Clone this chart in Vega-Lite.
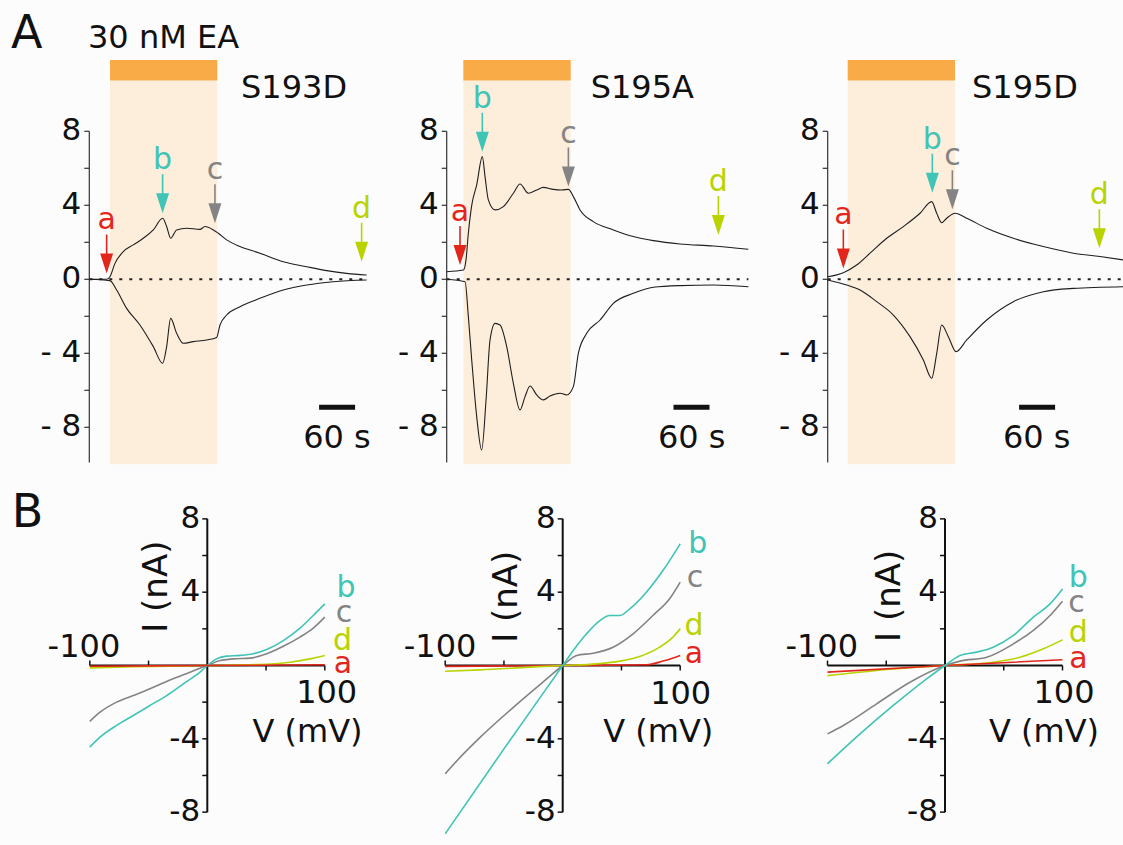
{
"$schema":"https://vega.github.io/schema/vega-lite/v6.json",
"background":"#fcfcfc",
"padding":0,
"autosize":{"type":"pad"},
"config":{"view":{"stroke":null},"concat":{"spacing":0},"text":{"font":"DejaVu Sans"}},
"datasets":{
"pan":[
{"p":"A1","t0":34.5,"t1":213.3,"tEnd":463,"b0":383,"b1":443,"z":0,"s0":-10,"s1":10.74,"s2":11.85,"a0":-9.9,"a1":8,"sb":-6.92},
{"p":"A2","t0":27.7,"t1":206.7,"tEnd":502.8,"b0":378,"b1":438,"z":0,"s0":-10,"s1":10.74,"s2":11.85,"a0":-9.9,"a1":8,"sb":-6.92},
{"p":"A3","t0":33.3,"t1":212.2,"tEnd":492.2,"b0":319,"b1":379,"z":0,"s0":-10,"s1":10.74,"s2":11.85,"a0":-9.9,"a1":8,"sb":-6.92},
{"p":"B1","z":0,"lo":-8,"hi":8,"xl":-100,"xh":100},{"p":"B2","z":0,"lo":-8,"hi":8,"xl":-100,"xh":100},{"p":"B3","z":0,"lo":-8,"hi":8,"xl":-100,"xh":100}],
"ytA":[{"v":8,"lab":"8","x0":-8.33,"x1":0},{"v":6,"lab":"","x0":-8.33,"x1":0},{"v":4,"lab":"4","x0":-8.33,"x1":0},{"v":2,"lab":"","x0":-8.33,"x1":0},{"v":0,"lab":"0","x0":-8.33,"x1":0},{"v":-2,"lab":"","x0":-8.33,"x1":0},{"v":-4,"lab":"- 4","x0":-8.33,"x1":0},{"v":-6,"lab":"","x0":-8.33,"x1":0},{"v":-8,"lab":"- 8","x0":-8.33,"x1":0}],
"ytB":[{"v":8,"lab":"8","x0":-4.26,"x1":0},{"v":6,"lab":"","x0":-4.26,"x1":0},{"v":4,"lab":"4","x0":-4.26,"x1":0},{"v":2,"lab":"","x0":-4.26,"x1":0},{"v":-2,"lab":"","x0":-4.26,"x1":0},{"v":-4,"lab":"-4","x0":-4.26,"x1":0},{"v":-6,"lab":"","x0":-4.26,"x1":0},{"v":-8,"lab":"-8","x0":-4.26,"x1":0}],
"bt":[{"V":-100,"I0":0,"I1":0.27},{"V":-50,"I0":0,"I1":0.27},{"V":50,"I0":0,"I1":-0.27},{"V":100,"I0":0,"I1":-0.27}],
"traces":[
{"p":"A1","s":"u","t":0,"v":0},{"p":"A1","s":"u","t":28.9,"v":0},{"p":"A1","s":"u","t":34.4,"v":0.14},{"p":"A1","s":"u","t":42.8,"v":0.86},{"p":"A1","s":"u","t":56.7,"v":1.5},{"p":"A1","s":"u","t":73.3,"v":1.86},{"p":"A1","s":"u","t":90,"v":2.22},{"p":"A1","s":"u","t":106.7,"v":2.67},{"p":"A1","s":"u","t":122.2,"v":3.3},{"p":"A1","s":"u","t":128.9,"v":2.85},{"p":"A1","s":"u","t":135.6,"v":2.22},{"p":"A1","s":"u","t":145.6,"v":2.67},{"p":"A1","s":"u","t":162.2,"v":2.76},{"p":"A1","s":"u","t":184.4,"v":2.7},{"p":"A1","s":"u","t":192.8,"v":2.85},{"p":"A1","s":"u","t":206.7,"v":2.67},{"p":"A1","s":"u","t":215,"v":2.49},{"p":"A1","s":"u","t":228.9,"v":2.13},{"p":"A1","s":"u","t":251.1,"v":1.77},{"p":"A1","s":"u","t":284.4,"v":1.41},{"p":"A1","s":"u","t":323.3,"v":0.95},{"p":"A1","s":"u","t":362.2,"v":0.68},{"p":"A1","s":"u","t":395.6,"v":0.47},{"p":"A1","s":"u","t":428.9,"v":0.32},{"p":"A1","s":"u","t":462.2,"v":0.23},
{"p":"A1","s":"l","t":0,"v":0},{"p":"A1","s":"l","t":34.4,"v":-0.07},{"p":"A1","s":"l","t":45.6,"v":-0.58},{"p":"A1","s":"l","t":62.2,"v":-1.57},{"p":"A1","s":"l","t":84.4,"v":-2.47},{"p":"A1","s":"l","t":106.7,"v":-3.64},{"p":"A1","s":"l","t":122.2,"v":-4.54},{"p":"A1","s":"l","t":128.9,"v":-3.64},{"p":"A1","s":"l","t":135.6,"v":-2.11},{"p":"A1","s":"l","t":145.6,"v":-2.92},{"p":"A1","s":"l","t":156.7,"v":-3.46},{"p":"A1","s":"l","t":173.3,"v":-3.37},{"p":"A1","s":"l","t":195.6,"v":-3.28},{"p":"A1","s":"l","t":212.2,"v":-3.14},{"p":"A1","s":"l","t":217.8,"v":-2.47},{"p":"A1","s":"l","t":228.9,"v":-1.93},{"p":"A1","s":"l","t":251.1,"v":-1.48},{"p":"A1","s":"l","t":284.4,"v":-1.03},{"p":"A1","s":"l","t":323.3,"v":-0.58},{"p":"A1","s":"l","t":362.2,"v":-0.31},{"p":"A1","s":"l","t":406.7,"v":-0.13},{"p":"A1","s":"l","t":462.2,"v":-0.04},
{"p":"A2","s":"u","t":0,"v":0.41},{"p":"A2","s":"u","t":27.8,"v":0.5},{"p":"A2","s":"u","t":32.2,"v":1.05},{"p":"A2","s":"u","t":36.1,"v":2.5},{"p":"A2","s":"u","t":41.7,"v":4.0},{"p":"A2","s":"u","t":50,"v":5.1},{"p":"A2","s":"u","t":59.4,"v":6.63},{"p":"A2","s":"u","t":63.9,"v":5.55},{"p":"A2","s":"u","t":69.4,"v":4.29},{"p":"A2","s":"u","t":80.6,"v":3.75},{"p":"A2","s":"u","t":94.4,"v":3.93},{"p":"A2","s":"u","t":111.1,"v":4.65},{"p":"A2","s":"u","t":122.2,"v":5.15},{"p":"A2","s":"u","t":136.1,"v":4.65},{"p":"A2","s":"u","t":150,"v":4.83},{"p":"A2","s":"u","t":161.1,"v":4.97},{"p":"A2","s":"u","t":177.8,"v":4.86},{"p":"A2","s":"u","t":191.7,"v":4.83},{"p":"A2","s":"u","t":202.8,"v":4.86},{"p":"A2","s":"u","t":211.1,"v":4.47},{"p":"A2","s":"u","t":222.2,"v":3.75},{"p":"A2","s":"u","t":244.4,"v":3.12},{"p":"A2","s":"u","t":277.8,"v":2.67},{"p":"A2","s":"u","t":311.1,"v":2.31},{"p":"A2","s":"u","t":344.4,"v":2.09},{"p":"A2","s":"u","t":388.9,"v":1.91},{"p":"A2","s":"u","t":444.4,"v":1.8},{"p":"A2","s":"u","t":502.8,"v":1.62},
{"p":"A2","s":"l","t":0,"v":0},{"p":"A2","s":"l","t":30.6,"v":-0.13},{"p":"A2","s":"l","t":36.1,"v":-2.02},{"p":"A2","s":"l","t":41.7,"v":-4.36},{"p":"A2","s":"l","t":50,"v":-7.42},{"p":"A2","s":"l","t":58.3,"v":-9.23},{"p":"A2","s":"l","t":65.6,"v":-6.52},{"p":"A2","s":"l","t":72.2,"v":-3.28},{"p":"A2","s":"l","t":80.6,"v":-2.38},{"p":"A2","s":"l","t":88.9,"v":-2.47},{"p":"A2","s":"l","t":100,"v":-3.64},{"p":"A2","s":"l","t":111.1,"v":-5.62},{"p":"A2","s":"l","t":122.2,"v":-7.06},{"p":"A2","s":"l","t":130.6,"v":-6.34},{"p":"A2","s":"l","t":138.9,"v":-5.77},{"p":"A2","s":"l","t":150,"v":-6.25},{"p":"A2","s":"l","t":161.1,"v":-6.52},{"p":"A2","s":"l","t":172.2,"v":-6.31},{"p":"A2","s":"l","t":188.9,"v":-6.16},{"p":"A2","s":"l","t":200,"v":-6.25},{"p":"A2","s":"l","t":211.1,"v":-5.8},{"p":"A2","s":"l","t":219.4,"v":-4.0},{"p":"A2","s":"l","t":233.3,"v":-2.92},{"p":"A2","s":"l","t":255.6,"v":-2.2},{"p":"A2","s":"l","t":277.8,"v":-1.3},{"p":"A2","s":"l","t":311.1,"v":-0.76},{"p":"A2","s":"l","t":344.4,"v":-0.43},{"p":"A2","s":"l","t":388.9,"v":-0.34},{"p":"A2","s":"l","t":444.4,"v":-0.31},{"p":"A2","s":"l","t":502.8,"v":-0.4},
{"p":"A3","s":"u","t":0,"v":0.14},{"p":"A3","s":"u","t":26.1,"v":0.36},{"p":"A3","s":"u","t":48.3,"v":0.77},{"p":"A3","s":"u","t":70.6,"v":1.41},{"p":"A3","s":"u","t":98.3,"v":2.22},{"p":"A3","s":"u","t":126.1,"v":2.85},{"p":"A3","s":"u","t":153.9,"v":3.57},{"p":"A3","s":"u","t":173.3,"v":4.2},{"p":"A3","s":"u","t":181.7,"v":3.57},{"p":"A3","s":"u","t":190,"v":3.06},{"p":"A3","s":"u","t":198.3,"v":3.3},{"p":"A3","s":"u","t":212.2,"v":3.57},{"p":"A3","s":"u","t":231.7,"v":3.3},{"p":"A3","s":"u","t":265,"v":2.76},{"p":"A3","s":"u","t":309.4,"v":2.22},{"p":"A3","s":"u","t":359.4,"v":1.77},{"p":"A3","s":"u","t":409.4,"v":1.41},{"p":"A3","s":"u","t":453.9,"v":1.23},{"p":"A3","s":"u","t":492.2,"v":1.05},
{"p":"A3","s":"l","t":0,"v":-0.04},{"p":"A3","s":"l","t":31.7,"v":-0.31},{"p":"A3","s":"l","t":53.9,"v":-0.58},{"p":"A3","s":"l","t":81.7,"v":-1.21},{"p":"A3","s":"l","t":109.4,"v":-1.93},{"p":"A3","s":"l","t":137.2,"v":-3.1},{"p":"A3","s":"l","t":159.4,"v":-4.36},{"p":"A3","s":"l","t":173.3,"v":-5.35},{"p":"A3","s":"l","t":181.7,"v":-4.0},{"p":"A3","s":"l","t":190,"v":-2.47},{"p":"A3","s":"l","t":201.1,"v":-3.1},{"p":"A3","s":"l","t":213.9,"v":-3.91},{"p":"A3","s":"l","t":231.7,"v":-3.28},{"p":"A3","s":"l","t":265,"v":-2.2},{"p":"A3","s":"l","t":309.4,"v":-1.21},{"p":"A3","s":"l","t":359.4,"v":-0.67},{"p":"A3","s":"l","t":409.4,"v":-0.49},{"p":"A3","s":"l","t":492.2,"v":-0.4}],
"arr":[
{"p":"A1","c":"a","t":28.9,"v":0.32},{"p":"A1","c":"b","t":122.2,"v":3.57},{"p":"A1","c":"c","t":209.4,"v":3.03},{"p":"A1","c":"d","t":453.9,"v":0.95},
{"p":"A2","c":"a","t":22.2,"v":0.77},{"p":"A2","c":"b","t":59.4,"v":6.9},{"p":"A2","c":"c","t":202.8,"v":5.01},{"p":"A2","c":"d","t":452.8,"v":2.4},
{"p":"A3","c":"a","t":26.1,"v":0.59},{"p":"A3","c":"b","t":174.4,"v":4.68},{"p":"A3","c":"c","t":207.8,"v":3.78},{"p":"A3","c":"d","t":452.8,"v":1.68}],
"txt":[
{"p":"A1","k":"m","txt":"S193D","x":341.2,"y":9.78},{"p":"A1","k":"m","txt":"60 s","x":412.8,"y":-9.14},{"p":"A1","k":"m","txt":"30 nM EA","x":123.7,"y":12.49},{"p":"A1","k":"L","txt":"A","x":-104.3,"y":12.49},
{"p":"A2","k":"m","txt":"S195A","x":326,"y":9.78},{"p":"A2","k":"m","txt":"60 s","x":408.3,"y":-9.14},
{"p":"A3","k":"m","txt":"S195D","x":328.8,"y":9.78},{"p":"A3","k":"m","txt":"60 s","x":348.3,"y":-9.14},
{"p":"B1","k":"m","txt":"-100","x":-105,"y":0.48},{"p":"B1","k":"m","txt":"100","x":101.6,"y":-2.06},{"p":"B1","k":"m","txt":"V (mV)","x":85.3,"y":-4.16},{"p":"B1","k":"r","txt":"I (nA)","x":-42.4,"y":4.3},{"p":"B1","k":"L","txt":"B","x":-153,"y":7.57},
{"p":"B2","k":"m","txt":"-100","x":-104.4,"y":0.48},{"p":"B2","k":"m","txt":"100","x":100.4,"y":-2.1},{"p":"B2","k":"m","txt":"V (mV)","x":81.3,"y":-4.16},{"p":"B2","k":"r","txt":"I (nA)","x":-47,"y":3.75},
{"p":"B3","k":"m","txt":"-100","x":-104.9,"y":0.48},{"p":"B3","k":"m","txt":"100","x":101.3,"y":-2.06},{"p":"B3","k":"m","txt":"V (mV)","x":84.3,"y":-4.16},{"p":"B3","k":"r","txt":"I (nA)","x":-46.8,"y":3.8}],
"lbl":[
{"p":"B1","c":"b","V":118,"I":3.75},{"p":"B1","c":"c","V":116.3,"I":2.37},{"p":"B1","c":"d","V":115,"I":0.85},{"p":"B1","c":"a","V":115.5,"I":-0.41},
{"p":"B2","c":"b","V":115,"I":6.12},{"p":"B2","c":"c","V":112.6,"I":4.3},{"p":"B2","c":"d","V":111.7,"I":1.66},{"p":"B2","c":"a","V":111.7,"I":0.12},
{"p":"B3","c":"b","V":113.5,"I":4.3},{"p":"B3","c":"c","V":112,"I":2.93},{"p":"B3","c":"d","V":113.5,"I":1.3},{"p":"B3","c":"a","V":113.5,"I":-0.15}],
"iv":[
{"p":"B1","c":"d","V":-100,"I":-0.13},{"p":"B1","c":"d","V":-63,"I":-0.07},{"p":"B1","c":"d","V":0,"I":0},{"p":"B1","c":"d","V":50.5,"I":0.07},{"p":"B1","c":"d","V":70.4,"I":0.18},{"p":"B1","c":"d","V":87.4,"I":0.36},{"p":"B1","c":"d","V":100,"I":0.55},
{"p":"B1","c":"c","V":-100,"I":-3.05},{"p":"B1","c":"c","V":-91.3,"I":-2.55},{"p":"B1","c":"c","V":-77.2,"I":-2.0},{"p":"B1","c":"c","V":-63,"I":-1.64},{"p":"B1","c":"c","V":-48.8,"I":-1.27},{"p":"B1","c":"c","V":-34.6,"I":-0.87},{"p":"B1","c":"c","V":-20.4,"I":-0.51},{"p":"B1","c":"c","V":-6.2,"I":-0.15},{"p":"B1","c":"c","V":0,"I":0},{"p":"B1","c":"c","V":10.8,"I":0.27},{"p":"B1","c":"c","V":22.1,"I":0.36},{"p":"B1","c":"c","V":36.3,"I":0.4},{"p":"B1","c":"c","V":50.5,"I":0.64},{"p":"B1","c":"c","V":64.7,"I":1.05},{"p":"B1","c":"c","V":78.9,"I":1.55},{"p":"B1","c":"c","V":90.2,"I":2.04},{"p":"B1","c":"c","V":100,"I":2.64},
{"p":"B1","c":"b","V":-100,"I":-4.45},{"p":"B1","c":"b","V":-91.3,"I":-3.91},{"p":"B1","c":"b","V":-77.2,"I":-3.27},{"p":"B1","c":"b","V":-63,"I":-2.73},{"p":"B1","c":"b","V":-48.8,"I":-2.18},{"p":"B1","c":"b","V":-34.6,"I":-1.64},{"p":"B1","c":"b","V":-20.4,"I":-1.0},{"p":"B1","c":"b","V":-6.2,"I":-0.36},{"p":"B1","c":"b","V":0,"I":0},{"p":"B1","c":"b","V":7.9,"I":0.36},{"p":"B1","c":"b","V":16.5,"I":0.51},{"p":"B1","c":"b","V":27.8,"I":0.55},{"p":"B1","c":"b","V":39.1,"I":0.64},{"p":"B1","c":"b","V":50.5,"I":0.87},{"p":"B1","c":"b","V":64.7,"I":1.36},{"p":"B1","c":"b","V":78.9,"I":2.04},{"p":"B1","c":"b","V":90.2,"I":2.73},{"p":"B1","c":"b","V":100,"I":3.36},
{"p":"B1","c":"a","V":-100,"I":-0.04},{"p":"B1","c":"a","V":0,"I":0},{"p":"B1","c":"a","V":100,"I":0.04},
{"p":"B2","c":"a","V":-100,"I":-0.05},{"p":"B2","c":"a","V":0,"I":0},{"p":"B2","c":"a","V":71.2,"I":0.04},{"p":"B2","c":"a","V":85.3,"I":0.24},{"p":"B2","c":"a","V":100,"I":0.55},
{"p":"B2","c":"d","V":-100,"I":-0.31},{"p":"B2","c":"d","V":-70.1,"I":-0.24},{"p":"B2","c":"d","V":-27.7,"I":-0.09},{"p":"B2","c":"d","V":0,"I":0},{"p":"B2","c":"d","V":28.8,"I":0.09},{"p":"B2","c":"d","V":48.6,"I":0.24},{"p":"B2","c":"d","V":65.5,"I":0.49},{"p":"B2","c":"d","V":82.5,"I":1.0},{"p":"B2","c":"d","V":93.8,"I":1.55},{"p":"B2","c":"d","V":100,"I":2.0},
{"p":"B2","c":"c","V":-100,"I":-5.91},{"p":"B2","c":"c","V":-89.8,"I":-5.18},{"p":"B2","c":"c","V":-70.1,"I":-3.91},{"p":"B2","c":"c","V":-41.8,"I":-2.27},{"p":"B2","c":"c","V":-13.6,"I":-0.73},{"p":"B2","c":"c","V":0,"I":0},{"p":"B2","c":"c","V":11.9,"I":0.55},{"p":"B2","c":"c","V":26,"I":0.67},{"p":"B2","c":"c","V":42.9,"I":1.0},{"p":"B2","c":"c","V":59.9,"I":1.73},{"p":"B2","c":"c","V":76.8,"I":2.73},{"p":"B2","c":"c","V":91,"I":3.64},{"p":"B2","c":"c","V":100,"I":4.55},
{"p":"B2","c":"b","V":-100,"I":-9.18},{"p":"B2","c":"b","V":-50,"I":-4.55},{"p":"B2","c":"b","V":0,"I":0},{"p":"B2","c":"b","V":9,"I":0.82},{"p":"B2","c":"b","V":20.3,"I":1.73},{"p":"B2","c":"b","V":31.6,"I":2.45},{"p":"B2","c":"b","V":40.1,"I":2.73},{"p":"B2","c":"b","V":48.6,"I":2.73},{"p":"B2","c":"b","V":57.1,"I":3.09},{"p":"B2","c":"b","V":71.2,"I":4.0},{"p":"B2","c":"b","V":85.3,"I":5.18},{"p":"B2","c":"b","V":100,"I":6.64},
{"p":"B3","c":"d","V":-100,"I":-0.55},{"p":"B3","c":"d","V":-58.2,"I":-0.27},{"p":"B3","c":"d","V":0,"I":0},{"p":"B3","c":"d","V":41.1,"I":0.18},{"p":"B3","c":"d","V":63.8,"I":0.45},{"p":"B3","c":"d","V":83.7,"I":0.91},{"p":"B3","c":"d","V":100,"I":1.4},
{"p":"B3","c":"a","V":-100,"I":-0.36},{"p":"B3","c":"a","V":0,"I":0},{"p":"B3","c":"a","V":100,"I":0.31},
{"p":"B3","c":"c","V":-100,"I":-3.73},{"p":"B3","c":"c","V":-86.5,"I":-3.27},{"p":"B3","c":"c","V":-58.2,"I":-2.09},{"p":"B3","c":"c","V":-29.8,"I":-0.91},{"p":"B3","c":"c","V":0,"I":0},{"p":"B3","c":"c","V":12.8,"I":0.24},{"p":"B3","c":"c","V":35.5,"I":0.45},{"p":"B3","c":"c","V":58.2,"I":1.18},{"p":"B3","c":"c","V":75.2,"I":1.91},{"p":"B3","c":"c","V":89.4,"I":2.73},{"p":"B3","c":"c","V":100,"I":3.51},
{"p":"B3","c":"b","V":-100,"I":-5.36},{"p":"B3","c":"b","V":-72.3,"I":-3.73},{"p":"B3","c":"b","V":-44,"I":-2.18},{"p":"B3","c":"b","V":-15.6,"I":-0.73},{"p":"B3","c":"b","V":0,"I":0},{"p":"B3","c":"b","V":12.8,"I":0.55},{"p":"B3","c":"b","V":27,"I":0.73},{"p":"B3","c":"b","V":41.1,"I":1.0},{"p":"B3","c":"b","V":58.2,"I":1.64},{"p":"B3","c":"b","V":75.2,"I":2.64},{"p":"B3","c":"b","V":89.4,"I":3.36},{"p":"B3","c":"b","V":100,"I":4.18}]
},
"columns":3,
"bounds":"flush",
"spacing":0,
"concat":[
{"width":380,"height":470,"layer":[
{"data":{"name":"pan"},"transform":[{"filter":"datum.p==='A1'"}],"mark":{"type":"rect","color":"#fdeedc"},"encoding":{"x":{"field":"t0","type":"quantitative","scale":{"domain":[-148.83,484.5],"nice":false,"zero":false},"axis":null},"x2":{"field":"t1"},"y":{"field":"s0","type":"quantitative","scale":{"domain":[-10.308,15.097],"nice":false,"zero":false},"axis":null},"y2":{"field":"s1"}}},
{"data":{"name":"pan"},"transform":[{"filter":"datum.p==='A1'"}],"mark":{"type":"rect","color":"#f8ab47"},"encoding":{"x":{"field":"t0","type":"quantitative","axis":null},"x2":{"field":"t1"},"y":{"field":"s1","type":"quantitative","axis":null},"y2":{"field":"s2"}}},
{"data":{"name":"pan"},"transform":[{"filter":"datum.p==='A1'"}],"mark":{"type":"rule","color":"#222","strokeWidth":2,"strokeDash":[3,7]},"encoding":{"x":{"field":"z","type":"quantitative","axis":null},"x2":{"field":"tEnd"},"y":{"field":"z","type":"quantitative","axis":null}}},
{"data":{"name":"pan"},"transform":[{"filter":"datum.p==='A1'"}],"mark":{"type":"rule","color":"#333","strokeWidth":1.2},"encoding":{"x":{"field":"z","type":"quantitative","axis":null},"y":{"field":"a0","type":"quantitative","axis":null},"y2":{"field":"a1"}}},
{"data":{"name":"ytA"},"mark":{"type":"rule","color":"#333","strokeWidth":1.2},"encoding":{"x":{"field":"x0","type":"quantitative","axis":null},"x2":{"field":"x1"},"y":{"field":"v","type":"quantitative","axis":null}}},
{"data":{"name":"ytA"},"mark":{"type":"text","fontSize":31,"align":"right","baseline":"middle","dx":-3,"color":"#111"},"encoding":{"x":{"field":"x0","type":"quantitative","axis":null},"y":{"field":"v","type":"quantitative","axis":null},"text":{"field":"lab","type":"nominal"}}},
{"data":{"name":"traces"},"transform":[{"filter":"datum.p==='A1'"}],"mark":{"type":"line","color":"#1e1e1e","strokeWidth":1.1,"interpolate":"monotone"},"encoding":{"x":{"field":"t","type":"quantitative","axis":null},"y":{"field":"v","type":"quantitative","axis":null},"detail":{"field":"s","type":"nominal"}}},
{"data":{"name":"arr"},"transform":[{"filter":"datum.p==='A1'"}],"mark":{"type":"point","filled":true,"opacity":1,"size":400,"shape":"M-0.08,-3.9L0.08,-3.9L0.08,-2L0.65,-2L0,0L-0.65,-2L-0.08,-2Z"},"encoding":{"x":{"field":"t","type":"quantitative","axis":null},"y":{"field":"v","type":"quantitative","axis":null},"color":{"field":"c","type":"nominal","scale":{"domain":["a","b","c","d"],"range":["#e2261c","#3fc4b5","#848484","#b9d300"]},"legend":null}}},
{"data":{"name":"arr"},"transform":[{"filter":"datum.p==='A1'"}],"mark":{"type":"text","fontSize":30,"dy":-44,"align":"center","baseline":"alphabetic"},"encoding":{"x":{"field":"t","type":"quantitative","axis":null},"y":{"field":"v","type":"quantitative","axis":null},"text":{"field":"c","type":"nominal"},"color":{"field":"c","type":"nominal","legend":null}}},
{"data":{"name":"pan"},"transform":[{"filter":"datum.p==='A1'"}],"mark":{"type":"rule","color":"#111","strokeWidth":5},"encoding":{"x":{"field":"b0","type":"quantitative","axis":null},"x2":{"field":"b1"},"y":{"field":"sb","type":"quantitative","axis":null}}},
{"data":{"name":"txt"},"transform":[{"filter":"datum.p==='A1' && datum.k==='m'"}],"mark":{"type":"text","fontSize":32,"align":"center","baseline":"alphabetic","color":"#111"},"encoding":{"x":{"field":"x","type":"quantitative","axis":null},"y":{"field":"y","type":"quantitative","axis":null},"text":{"field":"txt","type":"nominal"}}},
{"data":{"name":"txt"},"transform":[{"filter":"datum.p==='A1' && datum.k==='L'"}],"mark":{"type":"text","fontSize":46,"align":"center","baseline":"alphabetic","color":"#111"},"encoding":{"x":{"field":"x","type":"quantitative","axis":null},"y":{"field":"y","type":"quantitative","axis":null},"text":{"field":"txt","type":"nominal"}}}
]},
{"width":380,"height":470,"layer":[
{"data":{"name":"pan"},"transform":[{"filter":"datum.p==='A2'"}],"mark":{"type":"rect","color":"#fdeedc"},"encoding":{"x":{"field":"t0","type":"quantitative","scale":{"domain":[-111.17,522.17],"nice":false,"zero":false},"axis":null},"x2":{"field":"t1"},"y":{"field":"s0","type":"quantitative","scale":{"domain":[-10.308,15.097],"nice":false,"zero":false},"axis":null},"y2":{"field":"s1"}}},
{"data":{"name":"pan"},"transform":[{"filter":"datum.p==='A2'"}],"mark":{"type":"rect","color":"#f8ab47"},"encoding":{"x":{"field":"t0","type":"quantitative","axis":null},"x2":{"field":"t1"},"y":{"field":"s1","type":"quantitative","axis":null},"y2":{"field":"s2"}}},
{"data":{"name":"pan"},"transform":[{"filter":"datum.p==='A2'"}],"mark":{"type":"rule","color":"#222","strokeWidth":2,"strokeDash":[3,7]},"encoding":{"x":{"field":"z","type":"quantitative","axis":null},"x2":{"field":"tEnd"},"y":{"field":"z","type":"quantitative","axis":null}}},
{"data":{"name":"pan"},"transform":[{"filter":"datum.p==='A2'"}],"mark":{"type":"rule","color":"#333","strokeWidth":1.2},"encoding":{"x":{"field":"z","type":"quantitative","axis":null},"y":{"field":"a0","type":"quantitative","axis":null},"y2":{"field":"a1"}}},
{"data":{"name":"ytA"},"mark":{"type":"rule","color":"#333","strokeWidth":1.2},"encoding":{"x":{"field":"x0","type":"quantitative","axis":null},"x2":{"field":"x1"},"y":{"field":"v","type":"quantitative","axis":null}}},
{"data":{"name":"ytA"},"mark":{"type":"text","fontSize":31,"align":"right","baseline":"middle","dx":-3,"color":"#111"},"encoding":{"x":{"field":"x0","type":"quantitative","axis":null},"y":{"field":"v","type":"quantitative","axis":null},"text":{"field":"lab","type":"nominal"}}},
{"data":{"name":"traces"},"transform":[{"filter":"datum.p==='A2'"}],"mark":{"type":"line","color":"#1e1e1e","strokeWidth":1.1,"interpolate":"monotone"},"encoding":{"x":{"field":"t","type":"quantitative","axis":null},"y":{"field":"v","type":"quantitative","axis":null},"detail":{"field":"s","type":"nominal"}}},
{"data":{"name":"arr"},"transform":[{"filter":"datum.p==='A2'"}],"mark":{"type":"point","filled":true,"opacity":1,"size":400,"shape":"M-0.08,-3.9L0.08,-3.9L0.08,-2L0.65,-2L0,0L-0.65,-2L-0.08,-2Z"},"encoding":{"x":{"field":"t","type":"quantitative","axis":null},"y":{"field":"v","type":"quantitative","axis":null},"color":{"field":"c","type":"nominal","scale":{"domain":["a","b","c","d"],"range":["#e2261c","#3fc4b5","#848484","#b9d300"]},"legend":null}}},
{"data":{"name":"arr"},"transform":[{"filter":"datum.p==='A2'"}],"mark":{"type":"text","fontSize":30,"dy":-44,"align":"center","baseline":"alphabetic"},"encoding":{"x":{"field":"t","type":"quantitative","axis":null},"y":{"field":"v","type":"quantitative","axis":null},"text":{"field":"c","type":"nominal"},"color":{"field":"c","type":"nominal","legend":null}}},
{"data":{"name":"pan"},"transform":[{"filter":"datum.p==='A2'"}],"mark":{"type":"rule","color":"#111","strokeWidth":5},"encoding":{"x":{"field":"b0","type":"quantitative","axis":null},"x2":{"field":"b1"},"y":{"field":"sb","type":"quantitative","axis":null}}},
{"data":{"name":"txt"},"transform":[{"filter":"datum.p==='A2' && datum.k==='m'"}],"mark":{"type":"text","fontSize":32,"align":"center","baseline":"alphabetic","color":"#111"},"encoding":{"x":{"field":"x","type":"quantitative","axis":null},"y":{"field":"y","type":"quantitative","axis":null},"text":{"field":"txt","type":"nominal"}}}
]},
{"width":363,"height":470,"layer":[
{"data":{"name":"pan"},"transform":[{"filter":"datum.p==='A3'"}],"mark":{"type":"rect","color":"#fdeedc"},"encoding":{"x":{"field":"t0","type":"quantitative","scale":{"domain":[-112.83,492.17],"nice":false,"zero":false},"axis":null},"x2":{"field":"t1"},"y":{"field":"s0","type":"quantitative","scale":{"domain":[-10.308,15.097],"nice":false,"zero":false},"axis":null},"y2":{"field":"s1"}}},
{"data":{"name":"pan"},"transform":[{"filter":"datum.p==='A3'"}],"mark":{"type":"rect","color":"#f8ab47"},"encoding":{"x":{"field":"t0","type":"quantitative","axis":null},"x2":{"field":"t1"},"y":{"field":"s1","type":"quantitative","axis":null},"y2":{"field":"s2"}}},
{"data":{"name":"pan"},"transform":[{"filter":"datum.p==='A3'"}],"mark":{"type":"rule","color":"#222","strokeWidth":2,"strokeDash":[3,7]},"encoding":{"x":{"field":"z","type":"quantitative","axis":null},"x2":{"field":"tEnd"},"y":{"field":"z","type":"quantitative","axis":null}}},
{"data":{"name":"pan"},"transform":[{"filter":"datum.p==='A3'"}],"mark":{"type":"rule","color":"#333","strokeWidth":1.2},"encoding":{"x":{"field":"z","type":"quantitative","axis":null},"y":{"field":"a0","type":"quantitative","axis":null},"y2":{"field":"a1"}}},
{"data":{"name":"ytA"},"mark":{"type":"rule","color":"#333","strokeWidth":1.2},"encoding":{"x":{"field":"x0","type":"quantitative","axis":null},"x2":{"field":"x1"},"y":{"field":"v","type":"quantitative","axis":null}}},
{"data":{"name":"ytA"},"mark":{"type":"text","fontSize":31,"align":"right","baseline":"middle","dx":-3,"color":"#111"},"encoding":{"x":{"field":"x0","type":"quantitative","axis":null},"y":{"field":"v","type":"quantitative","axis":null},"text":{"field":"lab","type":"nominal"}}},
{"data":{"name":"traces"},"transform":[{"filter":"datum.p==='A3'"}],"mark":{"type":"line","color":"#1e1e1e","strokeWidth":1.1,"interpolate":"monotone"},"encoding":{"x":{"field":"t","type":"quantitative","axis":null},"y":{"field":"v","type":"quantitative","axis":null},"detail":{"field":"s","type":"nominal"}}},
{"data":{"name":"arr"},"transform":[{"filter":"datum.p==='A3'"}],"mark":{"type":"point","filled":true,"opacity":1,"size":400,"shape":"M-0.08,-3.9L0.08,-3.9L0.08,-2L0.65,-2L0,0L-0.65,-2L-0.08,-2Z"},"encoding":{"x":{"field":"t","type":"quantitative","axis":null},"y":{"field":"v","type":"quantitative","axis":null},"color":{"field":"c","type":"nominal","scale":{"domain":["a","b","c","d"],"range":["#e2261c","#3fc4b5","#848484","#b9d300"]},"legend":null}}},
{"data":{"name":"arr"},"transform":[{"filter":"datum.p==='A3'"}],"mark":{"type":"text","fontSize":30,"dy":-44,"align":"center","baseline":"alphabetic"},"encoding":{"x":{"field":"t","type":"quantitative","axis":null},"y":{"field":"v","type":"quantitative","axis":null},"text":{"field":"c","type":"nominal"},"color":{"field":"c","type":"nominal","legend":null}}},
{"data":{"name":"pan"},"transform":[{"filter":"datum.p==='A3'"}],"mark":{"type":"rule","color":"#111","strokeWidth":5},"encoding":{"x":{"field":"b0","type":"quantitative","axis":null},"x2":{"field":"b1"},"y":{"field":"sb","type":"quantitative","axis":null}}},
{"data":{"name":"txt"},"transform":[{"filter":"datum.p==='A3' && datum.k==='m'"}],"mark":{"type":"text","fontSize":32,"align":"center","baseline":"alphabetic","color":"#111"},"encoding":{"x":{"field":"x","type":"quantitative","axis":null},"y":{"field":"y","type":"quantitative","axis":null},"text":{"field":"txt","type":"nominal"}}}
]},
{"width":380,"height":375,"layer":[
{"data":{"name":"pan"},"transform":[{"filter":"datum.p==='B1'"}],"mark":{"type":"rule","color":"#111","strokeWidth":2},"encoding":{"x":{"field":"z","type":"quantitative","scale":{"domain":[-176.43,146.98],"nice":false,"zero":false},"axis":null},"y":{"field":"lo","type":"quantitative","scale":{"domain":[-9.793,10.666],"nice":false,"zero":false},"axis":null},"y2":{"field":"hi"}}},
{"data":{"name":"pan"},"transform":[{"filter":"datum.p==='B1'"}],"mark":{"type":"rule","color":"#111","strokeWidth":2},"encoding":{"x":{"field":"xl","type":"quantitative","axis":null},"x2":{"field":"xh"},"y":{"field":"z","type":"quantitative","axis":null}}},
{"data":{"name":"ytB"},"mark":{"type":"rule","color":"#111","strokeWidth":1.5},"encoding":{"x":{"field":"x0","type":"quantitative","axis":null},"x2":{"field":"x1"},"y":{"field":"v","type":"quantitative","axis":null}}},
{"data":{"name":"ytB"},"mark":{"type":"text","fontSize":31,"align":"right","baseline":"middle","dx":-2,"color":"#111"},"encoding":{"x":{"field":"x0","type":"quantitative","axis":null},"y":{"field":"v","type":"quantitative","axis":null},"text":{"field":"lab","type":"nominal"}}},
{"data":{"name":"bt"},"mark":{"type":"rule","color":"#111","strokeWidth":1.5},"encoding":{"x":{"field":"V","type":"quantitative","axis":null},"y":{"field":"I0","type":"quantitative","axis":null},"y2":{"field":"I1"}}},
{"data":{"name":"iv"},"transform":[{"filter":"datum.p==='B1'"}],"mark":{"type":"line","strokeWidth":1.6,"interpolate":"monotone"},"encoding":{"x":{"field":"V","type":"quantitative","axis":null},"y":{"field":"I","type":"quantitative","axis":null},"color":{"field":"c","type":"nominal","scale":{"domain":["a","b","c","d"],"range":["#e2261c","#3fc4b5","#848484","#b9d300"]},"legend":null}}},
{"data":{"name":"lbl"},"transform":[{"filter":"datum.p==='B1'"}],"mark":{"type":"text","fontSize":30,"align":"center","baseline":"alphabetic"},"encoding":{"x":{"field":"V","type":"quantitative","axis":null},"y":{"field":"I","type":"quantitative","axis":null},"text":{"field":"c","type":"nominal"},"color":{"field":"c","type":"nominal","legend":null}}},
{"data":{"name":"txt"},"transform":[{"filter":"datum.p==='B1' && datum.k==='m'"}],"mark":{"type":"text","fontSize":32,"align":"center","baseline":"alphabetic","color":"#111"},"encoding":{"x":{"field":"x","type":"quantitative","axis":null},"y":{"field":"y","type":"quantitative","axis":null},"text":{"field":"txt","type":"nominal"}}},
{"data":{"name":"txt"},"transform":[{"filter":"datum.p==='B1' && datum.k==='r'"}],"mark":{"type":"text","fontSize":34,"angle":270,"align":"center","baseline":"middle","color":"#111"},"encoding":{"x":{"field":"x","type":"quantitative","axis":null},"y":{"field":"y","type":"quantitative","axis":null},"text":{"field":"txt","type":"nominal"}}},
{"data":{"name":"txt"},"transform":[{"filter":"datum.p==='B1' && datum.k==='L'"}],"mark":{"type":"text","fontSize":46,"align":"center","baseline":"alphabetic","color":"#111"},"encoding":{"x":{"field":"x","type":"quantitative","axis":null},"y":{"field":"y","type":"quantitative","axis":null},"text":{"field":"txt","type":"nominal"}}}
]},
{"width":380,"height":375,"layer":[
{"data":{"name":"pan"},"transform":[{"filter":"datum.p==='B2'"}],"mark":{"type":"rule","color":"#111","strokeWidth":2},"encoding":{"x":{"field":"z","type":"quantitative","scale":{"domain":[-155.49,167.91],"nice":false,"zero":false},"axis":null},"y":{"field":"lo","type":"quantitative","scale":{"domain":[-9.793,10.666],"nice":false,"zero":false},"axis":null},"y2":{"field":"hi"}}},
{"data":{"name":"pan"},"transform":[{"filter":"datum.p==='B2'"}],"mark":{"type":"rule","color":"#111","strokeWidth":2},"encoding":{"x":{"field":"xl","type":"quantitative","axis":null},"x2":{"field":"xh"},"y":{"field":"z","type":"quantitative","axis":null}}},
{"data":{"name":"ytB"},"mark":{"type":"rule","color":"#111","strokeWidth":1.5},"encoding":{"x":{"field":"x0","type":"quantitative","axis":null},"x2":{"field":"x1"},"y":{"field":"v","type":"quantitative","axis":null}}},
{"data":{"name":"ytB"},"mark":{"type":"text","fontSize":31,"align":"right","baseline":"middle","dx":-2,"color":"#111"},"encoding":{"x":{"field":"x0","type":"quantitative","axis":null},"y":{"field":"v","type":"quantitative","axis":null},"text":{"field":"lab","type":"nominal"}}},
{"data":{"name":"bt"},"mark":{"type":"rule","color":"#111","strokeWidth":1.5},"encoding":{"x":{"field":"V","type":"quantitative","axis":null},"y":{"field":"I0","type":"quantitative","axis":null},"y2":{"field":"I1"}}},
{"data":{"name":"iv"},"transform":[{"filter":"datum.p==='B2'"}],"mark":{"type":"line","strokeWidth":1.6,"interpolate":"monotone"},"encoding":{"x":{"field":"V","type":"quantitative","axis":null},"y":{"field":"I","type":"quantitative","axis":null},"color":{"field":"c","type":"nominal","scale":{"domain":["a","b","c","d"],"range":["#e2261c","#3fc4b5","#848484","#b9d300"]},"legend":null}}},
{"data":{"name":"lbl"},"transform":[{"filter":"datum.p==='B2'"}],"mark":{"type":"text","fontSize":30,"align":"center","baseline":"alphabetic"},"encoding":{"x":{"field":"V","type":"quantitative","axis":null},"y":{"field":"I","type":"quantitative","axis":null},"text":{"field":"c","type":"nominal"},"color":{"field":"c","type":"nominal","legend":null}}},
{"data":{"name":"txt"},"transform":[{"filter":"datum.p==='B2' && datum.k==='m'"}],"mark":{"type":"text","fontSize":32,"align":"center","baseline":"alphabetic","color":"#111"},"encoding":{"x":{"field":"x","type":"quantitative","axis":null},"y":{"field":"y","type":"quantitative","axis":null},"text":{"field":"txt","type":"nominal"}}},
{"data":{"name":"txt"},"transform":[{"filter":"datum.p==='B2' && datum.k==='r'"}],"mark":{"type":"text","fontSize":34,"angle":270,"align":"center","baseline":"middle","color":"#111"},"encoding":{"x":{"field":"x","type":"quantitative","axis":null},"y":{"field":"y","type":"quantitative","axis":null},"text":{"field":"txt","type":"nominal"}}}
]},
{"width":363,"height":375,"layer":[
{"data":{"name":"pan"},"transform":[{"filter":"datum.p==='B3'"}],"mark":{"type":"rule","color":"#111","strokeWidth":2},"encoding":{"x":{"field":"z","type":"quantitative","scale":{"domain":[-157.45,151.49],"nice":false,"zero":false},"axis":null},"y":{"field":"lo","type":"quantitative","scale":{"domain":[-9.793,10.666],"nice":false,"zero":false},"axis":null},"y2":{"field":"hi"}}},
{"data":{"name":"pan"},"transform":[{"filter":"datum.p==='B3'"}],"mark":{"type":"rule","color":"#111","strokeWidth":2},"encoding":{"x":{"field":"xl","type":"quantitative","axis":null},"x2":{"field":"xh"},"y":{"field":"z","type":"quantitative","axis":null}}},
{"data":{"name":"ytB"},"mark":{"type":"rule","color":"#111","strokeWidth":1.5},"encoding":{"x":{"field":"x0","type":"quantitative","axis":null},"x2":{"field":"x1"},"y":{"field":"v","type":"quantitative","axis":null}}},
{"data":{"name":"ytB"},"mark":{"type":"text","fontSize":31,"align":"right","baseline":"middle","dx":-2,"color":"#111"},"encoding":{"x":{"field":"x0","type":"quantitative","axis":null},"y":{"field":"v","type":"quantitative","axis":null},"text":{"field":"lab","type":"nominal"}}},
{"data":{"name":"bt"},"mark":{"type":"rule","color":"#111","strokeWidth":1.5},"encoding":{"x":{"field":"V","type":"quantitative","axis":null},"y":{"field":"I0","type":"quantitative","axis":null},"y2":{"field":"I1"}}},
{"data":{"name":"iv"},"transform":[{"filter":"datum.p==='B3'"}],"mark":{"type":"line","strokeWidth":1.6,"interpolate":"monotone"},"encoding":{"x":{"field":"V","type":"quantitative","axis":null},"y":{"field":"I","type":"quantitative","axis":null},"color":{"field":"c","type":"nominal","scale":{"domain":["a","b","c","d"],"range":["#e2261c","#3fc4b5","#848484","#b9d300"]},"legend":null}}},
{"data":{"name":"lbl"},"transform":[{"filter":"datum.p==='B3'"}],"mark":{"type":"text","fontSize":30,"align":"center","baseline":"alphabetic"},"encoding":{"x":{"field":"V","type":"quantitative","axis":null},"y":{"field":"I","type":"quantitative","axis":null},"text":{"field":"c","type":"nominal"},"color":{"field":"c","type":"nominal","legend":null}}},
{"data":{"name":"txt"},"transform":[{"filter":"datum.p==='B3' && datum.k==='m'"}],"mark":{"type":"text","fontSize":32,"align":"center","baseline":"alphabetic","color":"#111"},"encoding":{"x":{"field":"x","type":"quantitative","axis":null},"y":{"field":"y","type":"quantitative","axis":null},"text":{"field":"txt","type":"nominal"}}},
{"data":{"name":"txt"},"transform":[{"filter":"datum.p==='B3' && datum.k==='r'"}],"mark":{"type":"text","fontSize":34,"angle":270,"align":"center","baseline":"middle","color":"#111"},"encoding":{"x":{"field":"x","type":"quantitative","axis":null},"y":{"field":"y","type":"quantitative","axis":null},"text":{"field":"txt","type":"nominal"}}}
]}
]
}
